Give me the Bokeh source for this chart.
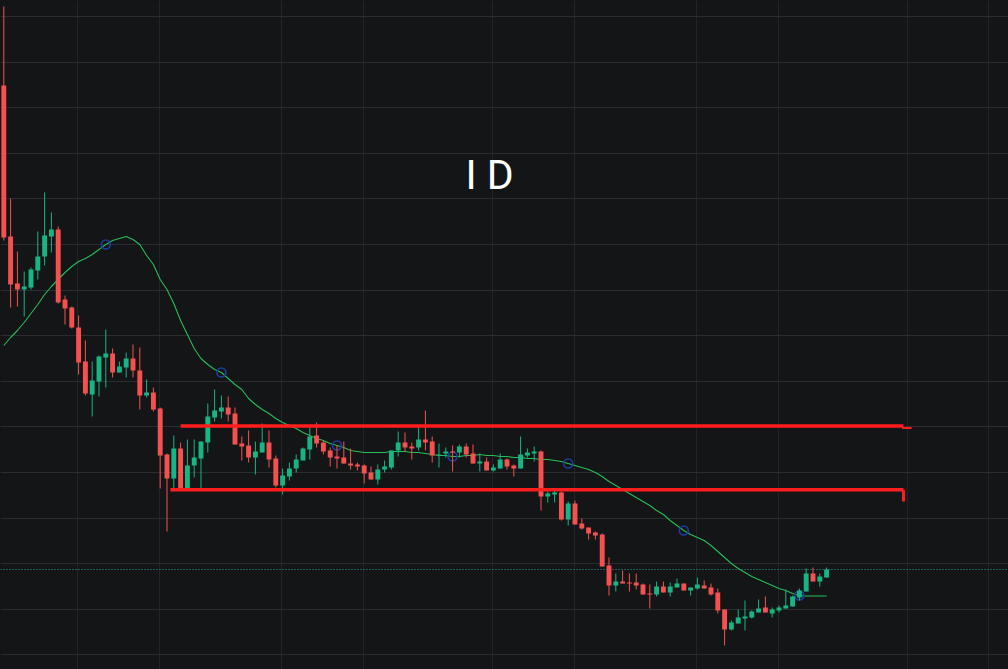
from bokeh.plotting import figure
from bokeh.models import Range1d, FixedTicker, Span, ColumnDataSource
from bokeh.core.properties import value
from bokeh.embed import file_html
from bokeh.resources import INLINE

# ---------------- data ----------------
opens = [6.15, 4.64, 4.17, 4.11, 4.13, 4.30, 4.44, 4.64, 4.71, 4.01,
         3.93, 3.73, 3.39, 3.06, 3.19, 3.43, 3.47, 3.28, 3.33, 3.42,
         3.30, 3.05, 3.08, 2.92, 2.46, 2.22, 2.52, 2.12, 2.35, 2.42,
         2.58, 2.83, 2.89, 2.93, 2.87, 2.57, 2.55, 2.43, 2.48, 2.58,
         2.42, 2.15, 2.24, 2.32, 2.40, 2.51, 2.65, 2.58, 2.50, 2.44,
         2.43, 2.37, 2.36, 2.35, 2.28, 2.21, 2.31, 2.33, 2.50, 2.58,
         2.54, 2.53, 2.61, 2.59, 2.45, 2.47, 2.49, 2.48, 2.54, 2.47,
         2.37, 2.39, 2.30, 2.32, 2.41, 2.35, 2.32, 2.45, 2.47, 2.49,
         2.04, 2.06, 2.08, 1.81, 1.97, 1.77, 1.73, 1.68, 1.66, 1.35,
         1.15, 1.19, 1.18, 1.18, 1.16, 1.07, 1.06, 1.14, 1.08, 1.13,
         1.17, 1.10, 1.12, 1.15, 1.13, 1.08, 0.91, 0.71, 0.77, 0.82,
         0.83, 0.88, 0.93, 0.87, 0.90, 0.92, 0.94, 1.03, 1.09, 1.27,
         1.19, 1.23]
highs = [6.94, 5.02, 4.49, 4.29, 4.33, 4.69, 5.08, 4.88, 4.74, 4.05,
         3.94, 3.85, 3.60, 3.39, 3.45, 3.71, 3.52, 3.39, 3.48, 3.56,
         3.53, 3.21, 3.13, 2.93, 2.47, 2.65, 2.58, 2.61, 2.61, 2.59,
         2.97, 3.11, 3.05, 3.04, 2.93, 2.64, 2.70, 2.59, 2.77, 2.70,
         2.45, 2.32, 2.38, 2.46, 2.53, 2.73, 2.78, 2.60, 2.53, 2.55,
         2.59, 2.52, 2.38, 2.36, 2.34, 2.36, 2.40, 2.50, 2.69, 2.68,
         2.58, 2.73, 2.90, 2.64, 2.57, 2.53, 2.55, 2.56, 2.57, 2.56,
         2.47, 2.43, 2.36, 2.47, 2.42, 2.36, 2.64, 2.52, 2.54, 2.50,
         2.09, 2.10, 2.09, 1.99, 2.00, 1.82, 1.73, 1.69, 1.67, 1.43,
         1.27, 1.30, 1.27, 1.27, 1.17, 1.16, 1.19, 1.19, 1.18, 1.22,
         1.17, 1.13, 1.23, 1.20, 1.17, 1.12, 0.91, 0.80, 0.91, 1.00,
         0.90, 1.01, 1.04, 0.93, 0.95, 1.11, 1.05, 1.12, 1.32, 1.33,
         1.27, 1.33]
lows = [4.60, 3.93, 3.94, 3.84, 4.11, 4.21, 4.35, 4.48, 3.97, 3.76,
        3.72, 3.26, 3.05, 2.84, 3.04, 3.13, 3.23, 3.28, 3.23, 3.23,
        2.91, 3.03, 2.89, 2.12, 1.69, 2.12, 2.11, 2.11, 2.23, 2.12,
        2.48, 2.79, 2.82, 2.79, 2.56, 2.40, 2.38, 2.26, 2.48, 2.33,
        2.13, 2.06, 2.20, 2.28, 2.40, 2.41, 2.53, 2.46, 2.34, 2.32,
        2.37, 2.31, 2.30, 2.17, 2.21, 2.16, 2.28, 2.31, 2.44, 2.49,
        2.41, 2.50, 2.50, 2.38, 2.33, 2.43, 2.29, 2.43, 2.43, 2.37,
        2.29, 2.30, 2.29, 2.32, 2.31, 2.24, 2.32, 2.43, 2.39, 1.90,
        1.98, 1.98, 1.80, 1.75, 1.76, 1.71, 1.61, 1.61, 1.34, 1.05,
        1.09, 1.17, 1.09, 1.11, 1.06, 0.92, 1.04, 1.08, 1.04, 1.13,
        1.10, 1.05, 1.11, 1.12, 1.05, 0.87, 0.55, 0.70, 0.77, 0.70,
        0.82, 0.88, 0.88, 0.83, 0.88, 0.92, 0.94, 1.00, 1.09, 1.19,
        1.14, 1.23]
closes = [4.63, 4.16, 4.11, 4.14, 4.31, 4.44, 4.65, 4.71, 3.98, 3.92,
          3.73, 3.38, 3.07, 3.20, 3.44, 3.47, 3.28, 3.34, 3.42, 3.30,
          3.05, 3.08, 2.91, 2.45, 2.22, 2.52, 2.12, 2.35, 2.43, 2.59,
          2.84, 2.90, 2.93, 2.86, 2.56, 2.54, 2.43, 2.49, 2.58, 2.41,
          2.15, 2.25, 2.32, 2.41, 2.52, 2.64, 2.57, 2.49, 2.43, 2.42,
          2.37, 2.35, 2.34, 2.27, 2.21, 2.31, 2.34, 2.50, 2.58, 2.53,
          2.52, 2.61, 2.58, 2.45, 2.46, 2.49, 2.48, 2.54, 2.46, 2.37,
          2.39, 2.30, 2.33, 2.41, 2.34, 2.32, 2.46, 2.48, 2.49, 2.04,
          2.07, 2.08, 1.81, 1.97, 1.76, 1.72, 1.67, 1.65, 1.34, 1.15,
          1.19, 1.17, 1.17, 1.15, 1.06, 1.06, 1.14, 1.08, 1.14, 1.17,
          1.10, 1.13, 1.16, 1.12, 1.06, 0.90, 0.71, 0.78, 0.83, 0.84,
          0.89, 0.92, 0.88, 0.91, 0.93, 0.95, 1.04, 1.10, 1.27, 1.19,
          1.24, 1.31]
ma_values = [3.55, 3.63, 3.70, 3.78, 3.87, 3.96, 4.06, 4.14, 4.21, 4.28,
             4.34, 4.39, 4.42, 4.46, 4.51, 4.56, 4.60, 4.62, 4.64, 4.61,
             4.56, 4.45, 4.36, 4.21, 4.11, 3.97, 3.80, 3.66, 3.52, 3.42,
             3.36, 3.31, 3.28, 3.22, 3.16, 3.11, 3.02, 2.96, 2.91, 2.87,
             2.82, 2.78, 2.75, 2.72, 2.68, 2.65, 2.62, 2.60, 2.57, 2.55,
             2.53, 2.50, 2.49, 2.48, 2.48, 2.48, 2.48, 2.49, 2.49, 2.49,
             2.48, 2.48, 2.47, 2.46, 2.45, 2.45, 2.44, 2.44, 2.45, 2.45,
             2.46, 2.45, 2.45, 2.44, 2.44, 2.43, 2.43, 2.42, 2.42, 2.41,
             2.41, 2.40, 2.39, 2.37, 2.35, 2.33, 2.31, 2.28, 2.24, 2.19,
             2.15, 2.11, 2.07, 2.03, 1.99, 1.95, 1.90, 1.86, 1.80, 1.75,
             1.70, 1.66, 1.63, 1.60, 1.55, 1.49, 1.43, 1.37, 1.32, 1.28,
             1.24, 1.21, 1.18, 1.15, 1.12, 1.10, 1.07, 1.05, 1.045, 1.045,
             1.045, 1.045]
marker_bars = [15, 32, 49, 66, 83, 100, 117]       # bars with blue circles on the MA

resistance_level = 2.745
support_level = 2.107
resistance_start, support_start, levels_end = 26.0, 24.5, 132.3
resistance_tail_level, resistance_tail_end = 2.725, 133.5
support_tick_low = 1.99

vgrid_bars = [10.84, 22.9, 40.84, 52.9, 71.87, 83.9, 101.87, 113.9, 132.9, 144.8]
hgrid_prices = [6.84 - 0.456 * k for k in range(15)]

title_text = "I D"
title_bar, title_price = 71.45, 5.26

# ---------------- colours ----------------
BG = "#141517"
UP = "#17b584"
DOWN = "#f55151"
MA_COLOR = "#27bd57"
CIRCLE = "#1f3d9e"
LEVEL = "#ff1d1d"
PRICE_LINE = "#26a69a"

n = len(opens)
idx = list(range(n))
col = [UP if c >= o else DOWN for o, c in zip(opens, closes)]
src = ColumnDataSource(dict(
    x=idx, o=opens, h=highs, l=lows, c=closes,
    top=[max(o, c) for o, c in zip(opens, closes)],
    bot=[min(o, c) for o, c in zip(opens, closes)],
    color=col))

p = figure(width=1008, height=669, output_backend="svg", toolbar_location=None,
           x_range=Range1d(-0.485, 147.75), y_range=Range1d(0.31, 7.00),
           min_border=0, min_border_left=0, min_border_right=0,
           min_border_top=0, min_border_bottom=0)
p.background_fill_color = BG
p.border_fill_color = BG
p.outline_line_color = None
p.xaxis.visible = False
p.yaxis.visible = False

p.xgrid.ticker = FixedTicker(ticks=vgrid_bars)
p.ygrid.ticker = FixedTicker(ticks=hgrid_prices)
p.xgrid.grid_line_color = "#222428"
p.ygrid.grid_line_color = "#2a2c30"
p.xgrid.grid_line_width = 1
p.ygrid.grid_line_width = 1

# title text
p.text(x=[title_bar], y=[title_price], text=[title_text], text_color="#ffffff",
       text_font=value("Roboto"), text_font_size="41px",
       text_align="center", text_baseline="alphabetic")

# last-price dotted line
p.add_layout(Span(location=closes[-1], dimension="width", line_color=PRICE_LINE,
                  line_width=1, line_dash="1 2", level="underlay"))

# moving average
p.line(idx, ma_values, line_color=MA_COLOR, line_width=1.1)
p.scatter(marker_bars, [ma_values[b] for b in marker_bars], size=9, marker="circle",
          fill_color=None, line_color=CIRCLE, line_width=1.6)

# candles
p.segment(x0="x", y0="h", x1="x", y1="l", source=src, line_color="color", line_width=1)
p.vbar(x="x", width=0.72, top="top", bottom="bot", source=src,
       fill_color="color", line_color=None)

# support / resistance drawings
p.segment(x0=[resistance_start, support_start, levels_end - 0.2, levels_end],
          y0=[resistance_level, support_level, resistance_tail_level, support_level],
          x1=[levels_end, levels_end, resistance_tail_end, levels_end],
          y1=[resistance_level, support_level, resistance_tail_level, support_tick_low],
          line_color=LEVEL, line_width=[3.5, 3.5, 2, 3])

html = file_html(p, INLINE, title="I D")
html = html.replace("<head>", "<head><style>html,body{margin:0;padding:0;overflow:hidden;background:%s;}</style>" % BG, 1)
open("out.html", "w").write(html)
